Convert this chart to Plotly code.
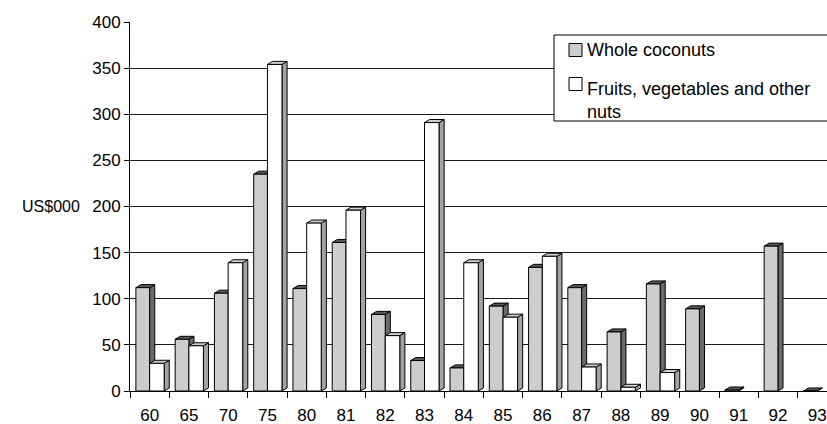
import plotly.graph_objects as go

# Export values by year, US$000
years = ["60", "65", "70", "75", "80", "81", "82", "83", "84",
         "85", "86", "87", "88", "89", "90", "91", "92", "93"]
whole_coconuts = [112, 56, 106, 235, 111, 161, 83, 33, 25,
                  92, 134, 112, 64, 116, 89, 1, 157, 0]
fruits_veg_nuts = [30, 49, 139, 354, 182, 196, 60, 291, 139,
                   80, 146, 26, 4, 20, None, None, None, None]

FONT = "Arial, Liberation Sans, sans-serif"
DX = 0.13      # depth offset of the pseudo-3D faces (category units)
DY = 3.3       # depth rise of the pseudo-3D faces (value units)

series = [
    # name, values, left offset, right offset, front, side, cap
    ("Whole coconuts", whole_coconuts, -0.35, 0.0, "#cdcdcd", "#6a6a6a", "#5a5a5a"),
    ("Fruits, vegetables and other nuts", fruits_veg_nuts, 0.0, 0.37, "#ffffff", "#a3a3a3", "#cfcfcf"),
]


def faces(values, lo, hi):
    """Polygons (None-separated) for the front, side and top faces of each bar."""
    fx, fy, sx, sy, cx, cy = [], [], [], [], [], []
    for i, v in enumerate(values):
        if v is None:
            continue
        x0, x1 = i + lo, i + hi
        fx += [x0, x1, x1, x0, x0, None]
        fy += [0, 0, v, v, 0, None]
        sx += [x1, x1 + DX, x1 + DX, x1, x1, None]
        sy += [0, DY, v + DY, v, 0, None]
        cx += [x0, x1, x1 + DX, x0 + DX, x0, None]
        cy += [v, v, v + DY, v + DY, v, None]
    return (fx, fy), (sx, sy), (cx, cy)


fig = go.Figure()
for name, vals, lo, hi, c_front, c_side, c_cap in series:
    front, side, cap = faces(vals, lo, hi)
    for (xs, ys), col in ((side, c_side), (cap, c_cap), (front, c_front)):
        fig.add_trace(go.Scatter(
            x=xs, y=ys, mode="lines", fill="toself", fillcolor=col,
            line=dict(color="black", width=1), name=name,
            showlegend=False, hoverinfo="skip", connectgaps=False,
        ))

# Pixel helpers for paper-positioned legend pieces (plot area: x 130..827, y 22..391)
def px_x(p):
    return (p - 130) / 697


def px_y(p):
    return 1 - (p - 22) / 369


# Legend box, swatches and labels
fig.add_shape(type="rect", xref="paper", yref="paper",
              x0=px_x(554), x1=1.05, y0=px_y(121), y1=px_y(35),
              line=dict(color="black", width=1), fillcolor="white", layer="above")
legend_rows = [(series[0][4], 50), (series[1][4], 84)]
for col, ypx in legend_rows:
    fig.add_shape(type="rect", xref="paper", yref="paper",
                  x0=px_x(569), x1=px_x(582), y0=px_y(ypx + 6.5), y1=px_y(ypx - 6.5),
                  line=dict(color="black", width=1), fillcolor=col, layer="above")
fig.add_annotation(xref="paper", yref="paper", x=px_x(585), y=px_y(49.5),
                   text=series[0][0], showarrow=False, xanchor="left", yanchor="middle",
                   font=dict(family=FONT, size=18, color="black"))
fig.add_annotation(xref="paper", yref="paper", x=px_x(585), y=px_y(76.5),
                   text="Fruits, vegetables and other<br>nuts", showarrow=False,
                   xanchor="left", yanchor="top", align="left",
                   font=dict(family=FONT, size=18, color="black"))

# Y-axis unit label
fig.add_annotation(xref="paper", yref="y", x=px_x(82), y=200, text="US$000",
                   showarrow=False, xanchor="right", yanchor="middle",
                   font=dict(family=FONT, size=16, color="black"))

fig.update_layout(
    width=827, height=424,
    margin=dict(l=130, r=0, t=22, b=33),
    paper_bgcolor="white", plot_bgcolor="white",
    showlegend=False,
    font=dict(family=FONT, size=17, color="black"),
)
fig.update_xaxes(
    range=[-0.5, 17.25], tickmode="array", tickvals=list(range(len(years))), ticktext=years,
    ticks="", showgrid=False, zeroline=False, showline=True, linecolor="black", linewidth=1,
    ticklabelstandoff=9, tickfont=dict(size=17),
    minor=dict(tickmode="array", tickvals=[i - 0.5 for i in range(len(years) + 1)],
               ticks="outside", ticklen=6, tickcolor="black", showgrid=False),
)
fig.update_yaxes(
    range=[0, 400], tickmode="array", tickvals=list(range(0, 401, 50)),
    ticks="outside", ticklen=5, tickcolor="black",
    showgrid=True, gridcolor="#1a1a1a", gridwidth=1.2,
    zeroline=False, showline=True, linecolor="black", linewidth=1,
    tickfont=dict(size=17),
)

fig.write_html("out.html")
